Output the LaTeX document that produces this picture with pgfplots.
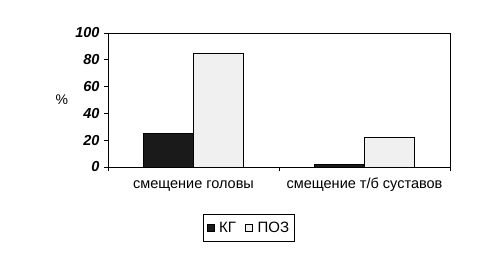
\documentclass[border=0pt]{standalone}
\usepackage{pgfplots}
\pgfplotsset{compat=1.18}
\usepackage{fontspec}
\setmainfont{Liberation Sans}
\definecolor{kg}{HTML}{1A1A1A}
\definecolor{poz}{HTML}{F0F0F0}
\begin{document}
\begin{tikzpicture}[x=1pt,y=1pt]
\path (0,0) rectangle (501,255);
\begin{axis}[
  at={(108pt,88pt)}, anchor=south west,
  scale only axis, width=342pt, height=134pt,
  ybar, bar width=50pt,
  xmin=-0.5, xmax=1.5, ymin=0, ymax=100,
  xtick={-0.5,0.5,1.5}, xticklabels={},
  extra x ticks={0,1}, extra x tick labels={смещение головы, смещение т/б суставов},
  extra x tick style={major tick length=0pt},
  ytick={0,20,40,60,80,100},
  tick align=outside, major tick length=4pt,
  xtick pos=bottom, ytick pos=left,
  axis line style={line width=0.9pt}, tick style={line width=0.8pt, black},
  yticklabel style={font=\fontsize{14.5}{16}\selectfont\bfseries\itshape, xshift=-1pt},
  /pgf/number format/assume math mode=true,
  xticklabel style={font=\fontsize{14.5}{16}\selectfont, anchor=base, yshift=-21pt},
  ylabel={\%}, ylabel style={at={(axis description cs:-0.135,0.5)}, rotate=-90, anchor=center, font=\fontsize{14}{16}\selectfont},
  legend style={at={(axis description cs:0.412,-0.455)}, anchor=center, draw=black, line width=0.8pt, font=\fontsize{15}{17}\selectfont, legend columns=2, inner xsep=3pt, inner ysep=5.5pt,
    /tikz/every odd column/.append style={column sep=3pt},
    /tikz/every even column/.append style={column sep=7pt}},
  legend image code/.code={\draw[#1, line width=0.6pt] (0pt,-3.5pt) rectangle (7pt,3.5pt);},
]
\addplot[fill=kg, draw=black, line width=0.9pt, bar shift=-25pt] coordinates {(0,25) (1,2)};
\addplot[fill=poz, draw=black, line width=0.9pt, bar shift=25pt] coordinates {(0,85) (1,22)};
\legend{КГ, ПОЗ}
\end{axis}
\end{tikzpicture}
\end{document}
